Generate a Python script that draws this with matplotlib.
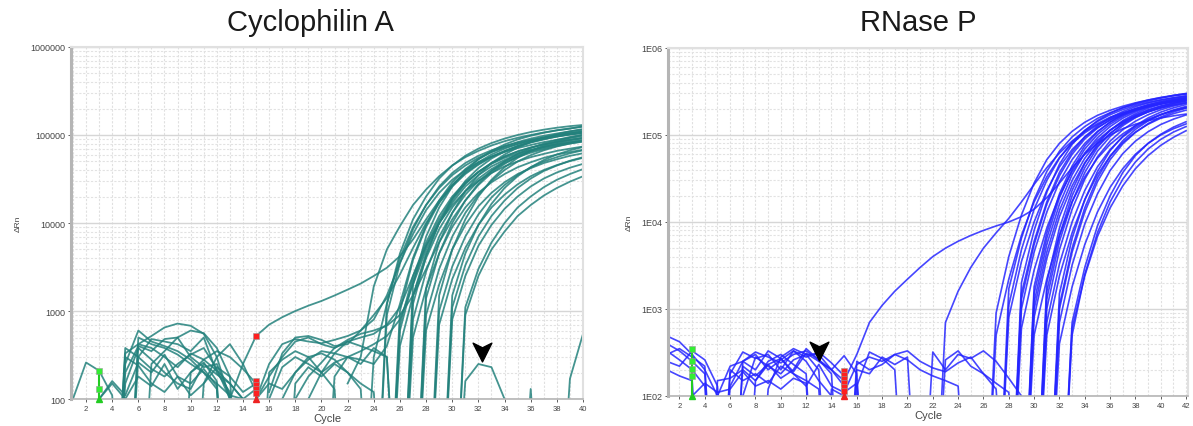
import matplotlib.pyplot as plt
from matplotlib.path import Path
from matplotlib.ticker import FixedLocator, FixedFormatter, NullFormatter, LogLocator

plt.rcParams['font.family'] = ['Liberation Sans', 'DejaVu Sans']

# ---- data: (first cycle, delta Rn per cycle); 1 = below the axis ----
# Cyclophilin A, amplification curves
cyclo_amp = [
    (13, [100, 250, 520, 700, 850, 1000, 1150, 1300, 1500, 1750, 2050, 2500, 3100, 4200,
          6500, 11000, 18000, 27000, 37000, 47000, 57000, 66000, 75000, 83000, 90000, 96000,
          101000, 105000]),
    (22, [150, 300, 1900, 5000, 9200, 16000, 24000, 34000, 45000, 56000, 66000, 76000, 85000,
          93000, 100000, 107000, 113000, 118000, 126000]),
    (15, [100, 250, 420, 480, 450, 430, 470, 520, 600, 800, 1500, 3500, 7500, 14000, 22000,
          31000, 40000, 49000, 57000, 64000, 71000, 77000, 83000, 88000, 93000, 97000]),
    (15, [100, 180, 300, 450, 500, 420, 380, 450, 500, 550, 700, 1100, 2500, 5500, 10000,
          16000, 23000, 30000, 37000, 44000, 50000, 56000, 61000, 66000, 70000, 74000]),
    (16, [100, 230, 300, 250, 200, 260, 300, 350, 420, 520, 800, 2000, 5000, 10000, 17000,
          26000, 35000, 44000, 52000, 60000, 67000, 73000, 79000, 84000, 88000]),
    (16, [120, 330, 500, 520, 470, 400, 420, 600, 900, 1400, 2600, 5200, 10000, 17000, 26000,
          36000, 46000, 56000, 65000, 74000, 82000, 89000, 96000, 102000, 108000]),
    (17, [100, 200, 280, 350, 330, 300, 280, 250, 400, 1200, 4000, 9500, 18000, 29000, 41000,
          53000, 64000, 74000, 83000, 91000, 98000, 104000, 110000, 115000]),
    (18, [100, 180, 260, 380, 470, 550, 600, 680, 900, 1500, 3000, 6000, 11000, 18000, 27000,
          37000, 47000, 57000, 66000, 74000, 81000, 87000, 92000]),
    (15, [100, 150, 130, 200, 300, 330, 280, 200, 150, 120, 1, 700, 2500, 6000, 12000, 20000,
          29000, 38000, 47000, 55000, 62000, 68000, 73000, 78000, 82000, 86000]),
    (19, [100, 200, 330, 450, 400, 350, 300, 1, 1500, 4500, 10000, 18000, 28000, 38000, 48000,
          57000, 65000, 72000, 78000, 83000, 88000, 92000]),
    (24, [1, 900, 3500, 8500, 16000, 26000, 37000, 48000, 58000, 67000, 75000, 82000, 88000,
          94000, 99000, 103000, 107000]),
    (25, [1, 600, 2200, 5500, 11000, 19000, 28000, 38000, 48000, 57000, 65000, 72000, 78000,
          84000, 89000, 93000]),
    (25, [1, 1000, 3800, 9000, 17000, 27000, 38000, 49000, 60000, 70000, 79000, 87000, 94000,
          100000, 106000, 111000]),
    (26, [1, 800, 2800, 7000, 13000, 21000, 30000, 39000, 48000, 56000, 63000, 69000, 75000,
          80000, 84000]),
    (26, [1, 1200, 4200, 10000, 19000, 30000, 42000, 54000, 65000, 75000, 84000, 92000, 99000,
          105000, 110000]),
    (26, [1, 500, 1800, 4500, 9000, 15000, 22000, 29000, 36000, 43000, 49000, 55000, 60000,
          64000, 68000]),
    (27, [1, 900, 3000, 7000, 13000, 21000, 30000, 40000, 50000, 59000, 67000, 74000, 80000, 85000]),
    (27, [1, 600, 2000, 5000, 9500, 15500, 22000, 29000, 36000, 42000, 48000, 53000, 58000, 62000]),
    (27, [1, 1400, 4500, 10000, 18000, 28000, 39000, 50000, 61000, 71000, 80000, 88000, 95000,
          101000]),
    (28, [1, 1000, 3200, 7000, 12500, 19500, 27000, 35000, 43000, 50000, 56000, 62000, 67000]),
    (28, [1, 700, 2300, 5200, 9500, 15000, 21000, 27500, 34000, 40000, 45500, 50500, 55000]),
    (29, [1, 1100, 3300, 7000, 12000, 18000, 25000, 32000, 39000, 45000, 51000, 56000]),
    (29, [1, 800, 2500, 5500, 9500, 14500, 20000, 26000, 32000, 37500, 42500, 47000]),
    (30, [1, 1100, 3000, 6000, 10000, 15000, 20000, 25500, 31000, 36000, 41000]),
    (30, [1, 900, 2500, 5000, 8000, 12000, 16000, 20500, 25000, 29500, 34000]),
    (28, [1, 1500, 5000, 11000, 20000, 31000, 43000, 55000, 66000, 76000, 85000, 93000, 100000]),
    (27, [1, 1800, 6000, 13000, 23000, 35000, 48000, 60000, 72000, 83000, 93000, 102000, 110000,
          117000]),
    (24, [1, 1200, 4500, 11000, 20000, 32000, 45000, 58000, 70000, 81000, 91000, 100000, 108000,
          115000, 121000, 126000, 130000]),
    (26, [1, 2000, 7000, 15000, 26000, 39000, 53000, 66000, 78000, 89000, 98000, 106000, 113000,
          119000, 124000]),
    (25, [1, 400, 1500, 4000, 8500, 15000, 23000, 32000, 41000, 50000, 58000, 65000, 71000,
          77000, 82000, 86000]),
    (23, [1, 300, 1200, 4000, 9000, 16000, 25000, 35000, 45000, 55000, 64000, 72000, 79000,
          86000, 92000, 97000, 102000, 106000]),
    (29, [1, 1500, 4500, 9500, 16500, 25000, 34000, 43000, 52000, 60000, 67000, 73000]),
]

# Cyclophilin A, baseline noise
cyclo_noise = [
    (1, [100, 260, 210, 110, 1]),
    (4, [1, 330, 420, 520, 650, 720, 680, 550, 300, 100, 1]),
    (4, [1, 250, 600, 450, 400, 350, 280, 200, 130, 1]),
    (4, [1, 380, 300, 480, 450, 420, 350, 500, 200, 120, 1]),
    (3, [100, 160, 110, 260, 200, 320, 180, 150, 220, 140, 1]),
    (4, [1, 200, 400, 350, 480, 500, 300, 230, 250, 110, 1]),
    (5, [1, 300, 220, 180, 250, 320, 380, 220, 100, 1]),
    (4, [1, 150, 380, 280, 200, 150, 130, 250, 190, 150, 100, 1]),
    (2, [1, 100, 150, 100, 180, 140, 250, 130, 200, 260, 160, 1]),
    (5, [1, 420, 380, 300, 230, 330, 280, 210, 150, 100, 1]),
    (4, [1, 300, 240, 150, 120, 180, 110, 150, 230, 180, 120, 150, 1]),
    (5, [1, 500, 420, 380, 320, 250, 200, 150, 110, 1]),
    (6, [1, 250, 350, 500, 600, 560, 380, 180, 1]),
    (9, [1, 200, 280, 350, 300, 220, 150, 1]),
    (10, [1, 150, 300, 420, 250, 120, 1]),
    (12, [1, 110, 100, 130, 1]),
    (15, [1, 200, 280, 350, 300, 200, 130, 1]),
    (17, [1, 150, 230, 180, 250, 200, 130, 1]),
    (20, [1, 180, 300, 250, 380, 300, 1]),
    (30, [1, 160, 250, 230, 100, 1]),
    (35, [1, 130, 1]),
    (38, [1, 170, 550]),
]

# RNase P, amplification curves
rnase_amp = [
    (15, [150, 300, 700, 1100, 1600, 2200, 3000, 4000, 5000, 6000, 7000, 8000, 9000, 10000,
          11500, 14000, 19000, 28000, 42000, 60000, 80000, 100000, 118000, 133000, 146000,
          157000, 166000, 174000]),
    (22, [1, 700, 1600, 3000, 5000, 7500, 11000, 17000, 27000, 42000, 62000, 85000, 110000,
          135000, 160000, 180000, 200000, 215000, 230000, 242000, 252000]),
    (26, [1, 900, 4000, 12000, 28000, 52000, 80000, 110000, 140000, 168000, 192000, 214000,
          234000, 252000, 268000, 282000, 294000]),
    (27, [1, 1700, 6500, 18000, 38000, 65000, 95000, 125000, 155000, 180000, 205000, 225000,
          245000, 265000, 285000, 300000]),
    (27, [1, 800, 3500, 10000, 23000, 43000, 68000, 95000, 122000, 148000, 172000, 193000,
          212000, 228000, 242000, 254000]),
    (28, [1, 1500, 6000, 17000, 37000, 64000, 95000, 127000, 158000, 186000, 211000, 233000,
          252000, 268000, 282000]),
    (28, [1, 1000, 4500, 13000, 29000, 52000, 80000, 110000, 140000, 168000, 193000, 215000,
          234000, 250000, 264000]),
    (28, [1, 600, 2800, 8500, 20000, 38000, 61000, 87000, 114000, 140000, 164000, 185000,
          204000, 220000, 234000]),
    (28, [1, 2000, 8000, 22000, 46000, 78000, 112000, 146000, 178000, 206000, 231000, 252000,
          270000, 285000, 298000]),
    (29, [1, 1200, 5500, 16000, 35000, 62000, 93000, 125000, 156000, 184000, 209000, 230000,
          248000, 263000]),
    (29, [1, 800, 3800, 11500, 26000, 48000, 75000, 104000, 133000, 160000, 184000, 205000,
          223000, 238000]),
    (29, [1, 1800, 7500, 21000, 44000, 75000, 108000, 141000, 172000, 199000, 223000, 243000,
          260000, 274000]),
    (29, [1, 500, 2200, 7000, 17000, 33000, 54000, 78000, 103000, 128000, 151000, 172000,
          190000, 205000]),
    (29, [1, 1000, 4500, 13500, 30000, 54000, 83000, 113000, 143000, 170000, 194000, 215000,
          232000, 247000]),
    (30, [1, 1300, 6000, 17000, 37000, 65000, 96000, 128000, 158000, 185000, 209000, 229000, 246000]),
    (30, [1, 700, 3300, 10000, 23000, 43000, 68000, 95000, 122000, 148000, 171000, 191000, 208000]),
    (30, [1, 2000, 8500, 23000, 47000, 79000, 113000, 146000, 176000, 203000, 226000, 245000, 261000]),
    (30, [1, 1000, 4800, 14000, 31000, 56000, 85000, 115000, 144000, 171000, 195000, 215000, 232000]),
    (30, [1, 500, 2400, 7500, 18000, 35000, 57000, 82000, 108000, 133000, 156000, 176000, 193000]),
    (31, [1, 1100, 5000, 14500, 32000, 57000, 86000, 116000, 145000, 171000, 194000, 213000]),
    (31, [1, 700, 3200, 9500, 21000, 39000, 61000, 85000, 109000, 132000, 152000, 170000]),
    (31, [1, 1500, 6500, 18000, 38000, 66000, 97000, 128000, 157000, 183000, 205000, 224000]),
    (31, [1, 400, 1800, 5500, 13000, 25000, 41000, 60000, 80000, 100000, 118000, 134000]),
    (32, [1, 700, 3000, 9000, 20000, 37000, 58000, 80000, 102000, 123000, 142000]),
    (32, [1, 500, 2500, 7500, 17000, 31000, 49000, 69000, 89000, 108000, 125000]),
    (32, [1, 600, 2400, 6800, 14500, 26000, 41000, 58000, 76000, 94000, 112000]),
    (27, [1, 1100, 4800, 14000, 30000, 54000, 83000, 113000, 143000, 171000, 196000, 218000,
          237000, 253000, 267000, 279000]),
    (26, [1, 500, 2200, 7000, 17000, 33000, 55000, 80000, 106000, 131000, 155000, 177000,
          196000, 213000, 228000, 241000, 252000]),
    (28, [1, 1300, 5500, 16000, 34000, 60000, 90000, 120000, 150000, 177000, 201000, 222000,
          240000, 255000, 268000]),
    (29, [1, 1500, 6500, 19000, 40000, 69000, 101000, 133000, 163000, 190000, 213000, 233000,
          250000, 264000]),
    (30, [1, 1600, 7000, 20000, 42000, 72000, 104000, 136000, 166000, 192000, 215000, 234000, 250000]),
    (31, [1, 1000, 4500, 13000, 29000, 52000, 79000, 107000, 135000, 161000, 184000, 204000]),
]

# RNase P, baseline noise
rnase_noise = [
    (1, [490, 420, 300, 200, 100, 1]),
    (1, [400, 330, 250, 180, 1]),
    (1, [330, 260, 200, 130, 1]),
    (1, [250, 220, 330, 260, 130, 1]),
    (1, [200, 170, 150, 1]),
    (1, [300, 350, 280, 220, 1]),
    (4, [1, 100, 220, 250, 320, 280, 240, 300, 330, 260, 200, 130, 1]),
    (5, [1, 180, 320, 270, 300, 200, 330, 250, 150, 100, 1]),
    (4, [1, 150, 160, 200, 150, 250, 300, 230, 180, 1, 120, 100, 1]),
    (6, [1, 100, 280, 220, 180, 260, 300, 200, 1]),
    (5, [1, 130, 250, 200, 330, 270, 180, 150, 120, 1]),
    (8, [1, 120, 280, 350, 300, 300, 200, 150, 1]),
    (5, [1, 200, 150, 180, 140, 220, 180, 130, 230, 130, 110, 140, 1]),
    (6, [1, 220, 170, 230, 160, 200, 350, 260, 180, 1]),
    (2, [1, 100, 140, 110, 120, 190, 130, 150, 120, 160, 140, 1]),
    (6, [1, 250, 300, 200, 260, 330, 280, 320, 240, 170, 1]),
    (7, [1, 150, 230, 270, 190, 310, 250, 200, 290, 180, 1]),
    (14, [1, 110, 230, 280, 250, 300, 260, 200, 170, 150, 130, 1]),
    (15, [1, 250, 200, 230, 300, 330, 250, 210, 190, 240, 280, 180, 120, 1]),
    (15, [1, 130, 320, 270, 200, 1]),
    (15, [1, 200, 180, 280, 230, 280, 1]),
    (21, [1, 320, 200, 300, 270, 330, 250, 160, 100, 1]),
    (22, [1, 260, 330, 220, 180, 140, 110, 1]),
]

# run markers (cycle, delta Rn)
cyclo_green = [210, 130]
cyclo_red = [520, 160, 145, 130, 118]
rnase_green = [350, 255, 205, 170]
rnase_red = [195, 175, 158, 142, 128, 114]
cyclo_arrow = (32.3, 350)
rnase_arrow = (13.0, 338)

teal = '#23817c'
blue = '#2525ff'

arrow_path = Path([(0, -1), (-0.9, 0.8), (0, 0.35), (0.9, 0.8), (0, -1)],
                  [Path.MOVETO, Path.LINETO, Path.LINETO, Path.LINETO, Path.CLOSEPOLY])

fig = plt.figure(figsize=(11.93, 4.27), dpi=100)
ax1 = fig.add_axes([0.0595, 0.0632, 0.4292, 0.8244])
ax2 = fig.add_axes([0.560, 0.0703, 0.4358, 0.8150])


def draw_curves(ax, curves, color, lw, alpha):
    for start, vals in curves:
        cyc = list(range(start, start + len(vals)))
        ax.plot(cyc, vals, color=color, lw=lw, alpha=alpha, solid_joinstyle='round')


def style_axes(ax, xmin, xmax, xticks, ylabels):
    ax.set_yscale('log')
    ax.set_ylim(100, 1e6)
    ax.set_xlim(xmin, xmax)
    ax.yaxis.set_major_locator(FixedLocator([1e2, 1e3, 1e4, 1e5, 1e6]))
    ax.yaxis.set_major_formatter(FixedFormatter(ylabels))
    ax.yaxis.set_minor_locator(LogLocator(base=10, subs=range(2, 10)))
    ax.yaxis.set_minor_formatter(NullFormatter())
    ax.xaxis.set_major_locator(FixedLocator(xticks))
    ax.xaxis.set_minor_locator(FixedLocator(range(1, int(xmax) + 1)))
    ax.tick_params(axis='both', which='major', labelsize=5.5, colors='#444444', length=2,
                   width=0.6, pad=2)
    ax.tick_params(axis='y', which='major', labelsize=6.5)
    ax.tick_params(which='minor', length=0)
    ax.grid(True, which='major', axis='y', color='#d6d6d6', lw=1.0)
    ax.grid(True, which='minor', axis='y', color='#e2e2e2', lw=0.8, ls=(0, (2, 1.5)))
    ax.grid(True, which='both', axis='x', color='#e0e0e0', lw=0.8, ls=(0, (2, 1.5)))
    ax.set_axisbelow(True)
    for s in ['top', 'right']:
        ax.spines[s].set_color('#e0e0e0')
        ax.spines[s].set_linewidth(1.5)
    ax.spines['left'].set_color('#b5b5b5')
    ax.spines['left'].set_linewidth(2.2)
    ax.spines['bottom'].set_color('#b5b5b5')
    ax.spines['bottom'].set_linewidth(1.2)
    ax.set_xlabel('Cycle', fontsize=8, color='#444444', labelpad=1)
    ax.set_ylabel('ΔRn', fontsize=6, color='#444444', labelpad=6)


def draw_marks(ax, green, red, arrow):
    ax.plot([3, 3], [100, max(green)], color='#22cc22', lw=1.5, zorder=5)
    ax.plot([3] * len(green), green, 's', color='#33ee33', mec='#999999', mew=0.4, ms=4, zorder=6)
    ax.plot([3], [100], '^', color='#22cc22', ms=5, clip_on=False, zorder=6)
    ax.plot([15, 15], [100, red[1]], color='#ee2222', lw=1.5, zorder=5)
    ax.plot([15] * len(red), red, 's', color='#ff2020', mec='#999999', mew=0.4, ms=4, zorder=6)
    ax.plot([15], [100], '^', color='#ee2222', ms=5, clip_on=False, zorder=6)
    ax.plot([arrow[0]], [arrow[1]], marker=arrow_path, color='black', ms=15, zorder=7)


draw_curves(ax1, cyclo_noise, teal, 1.3, 0.85)
draw_curves(ax1, cyclo_amp, teal, 1.3, 0.85)
style_axes(ax1, 0.85, 40, list(range(2, 41, 2)),
           ['100', '1000', '10000', '100000', '1000000'])
draw_marks(ax1, cyclo_green, cyclo_red, cyclo_arrow)

draw_curves(ax2, rnase_noise, blue, 1.2, 0.85)
draw_curves(ax2, rnase_amp, blue, 1.2, 0.85)
style_axes(ax2, 1.1, 42.15, list(range(2, 43, 2)),
           ['1E02', '1E03', '1E04', '1E05', '1E06'])
draw_marks(ax2, rnase_green, rnase_red, rnase_arrow)

fig.text(0.26, 0.945, 'Cyclophilin A', fontsize=21, ha='center', va='center', color='#1a1a1a')
fig.text(0.77, 0.945, 'RNase P', fontsize=21, ha='center', va='center', color='#1a1a1a')

fig.savefig('out.png', dpi=100, facecolor='white')
